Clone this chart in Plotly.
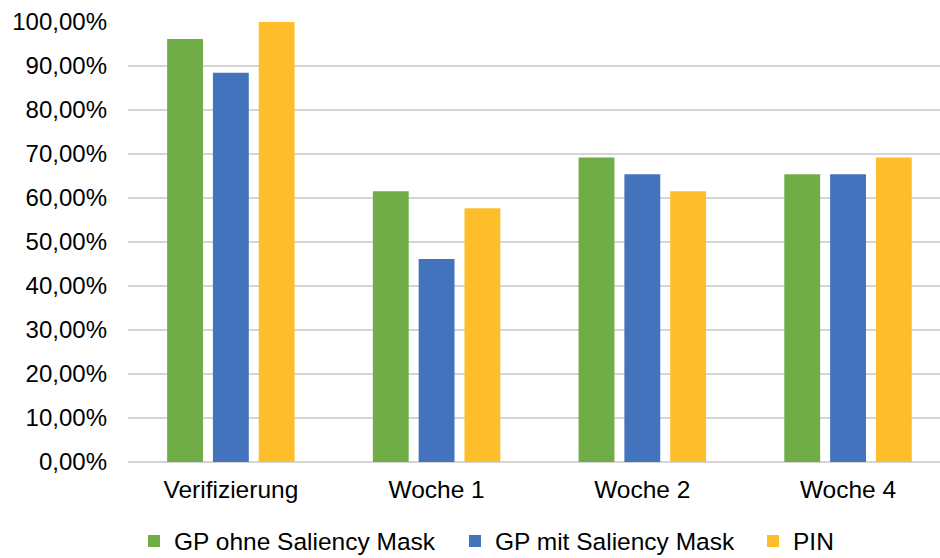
import plotly.graph_objects as go

categories = ["Verifizierung", "Woche 1", "Woche 2", "Woche 4"]
gp_ohne = [0.9615, 0.6154, 0.6923, 0.6538]
gp_mit = [0.8846, 0.4615, 0.6538, 0.6538]
pin = [1.0, 0.5769, 0.6154, 0.6923]

series = [
    ("GP ohne Saliency Mask", gp_ohne, "#70AD47", "legend", 134),
    ("GP mit Saliency Mask", gp_mit, "#4373BC", "legend2", 455),
    ("PIN", pin, "#FEBE2B", "legend3", 753),
]

FAMILY = "Liberation Sans, Arial, sans-serif"
font = dict(family=FAMILY, size=24.5, color="#000000")
GRID = "#D5D5D5"

fig = go.Figure()
legends = {}
for name, vals, color, lg, lx in series:
    fig.add_trace(go.Bar(x=categories, y=vals, name=name, marker_color=color,
                         marker_line_width=0, legend=lg))
    legends[lg] = dict(orientation="h", xref="container", yref="container",
                       x=lx / 940, xanchor="left", y=1 - 541 / 558, yanchor="middle",
                       font=dict(family=FAMILY, size=24.5, color="#000000"),
                       bgcolor="rgba(0,0,0,0)", borderwidth=0)

fig.update_layout(
    width=940, height=558,
    margin=dict(l=128, r=0, t=22, b=96, autoexpand=False),
    paper_bgcolor="white", plot_bgcolor="white",
    separators=",.",
    barmode="group", bargap=0.332, bargroupgap=0.217,
    font=font,
    showlegend=True,
    **legends,
)
fig.update_yaxes(range=[0, 1.0], dtick=0.1, tickformat=".2%", showgrid=True,
                 gridcolor=GRID, gridwidth=2, zeroline=True, zerolinecolor=GRID,
                 zerolinewidth=2, ticks="", showline=False, automargin=False,
                 ticklabelstandoff=20, tickfont=dict(family=FAMILY, size=24, color="#000000"))
fig.update_xaxes(range=[-0.5, 3.447], showgrid=False, ticks="", showline=False,
                 automargin=False, ticklabelstandoff=10, tickfont=font)

fig.write_html("out.html")
